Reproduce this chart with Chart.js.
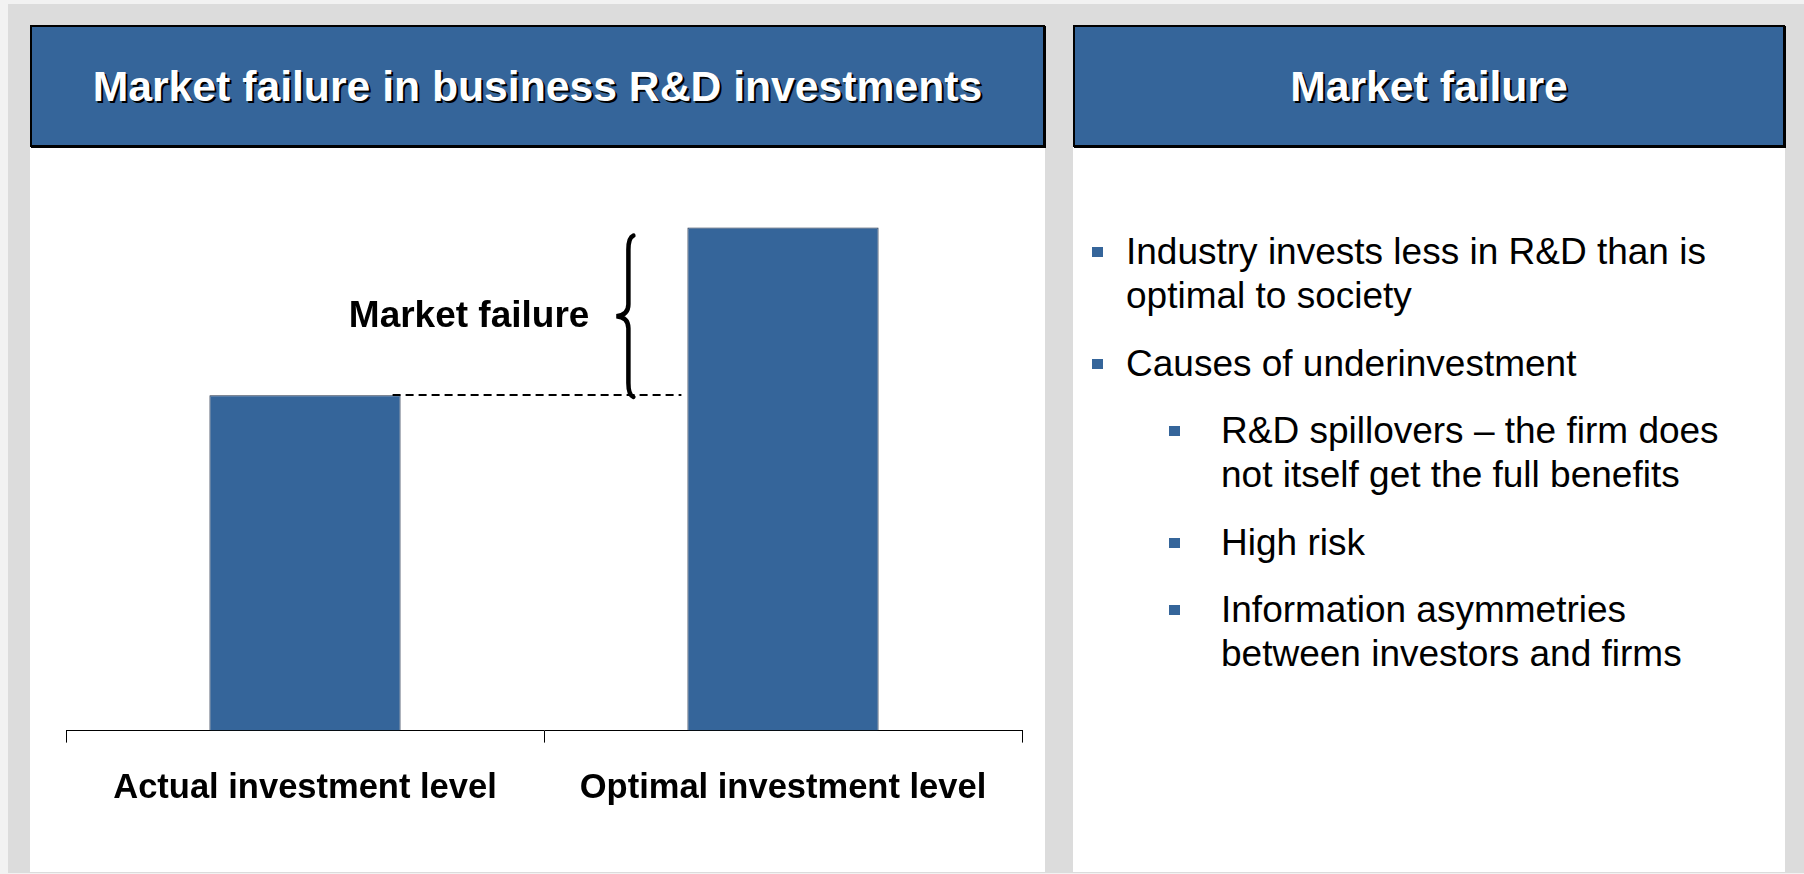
<!DOCTYPE html>
<html>
<head>
<meta charset="utf-8">
<title>Market failure in business R&amp;D investments</title>
<script src="https://cdn.jsdelivr.net/npm/chart.js@4/dist/chart.umd.min.js"></script>
<style>
    html, body {
        margin: 0;
        padding: 0;
        width: 1804px;
        height: 874px;
        overflow: hidden;
        background: #f2f2f2;
        font-family: "Liberation Sans", Arial, sans-serif;
    }
    .frame {
        position: absolute;
        left: 8px; top: 4px; width: 1796px; height: 869px;
        background: #dcdcdc;
    }
    .panel {
        position: absolute;
        top: 25px;
        height: 847px;
        background: #ffffff;
    }
    .header {
        position: absolute;
        left: 0; top: 0; right: 0;
        height: 118px;
        background: #35659a;
        border: 2px solid #000;
        box-shadow: 1px 1px 0 #000;
        color: #fff;
        font-weight: bold;
        font-size: 42.7px;
        display: flex;
        align-items: center;
        justify-content: center;
        text-shadow: 2px 2px 0 #000;
    }
    #left  { left: 30px;   width: 1015px; }
    #right { left: 1073px; width: 712px; }
    #chartBox {
        position: absolute;
        left: 0; top: 123px;
        width: 1015px; height: 724px;
    }
    ul.bullets {
        position: absolute;
        left: 0; top: 0;
        margin: 0; padding: 0;
        list-style: none;
        font-size: 37px;
        line-height: 44px;
        color: #000;
    }
    ul.bullets li {
        position: absolute;
        white-space: nowrap;
    }
    ul.bullets li::before {
        content: "";
        position: absolute;
        width: 11px; height: 10px;
        background: #35659a;
        top: 17px;
    }
    ul.bullets li.l1 { left: 53px; }
    ul.bullets li.l1::before { left: -34px; }
    ul.bullets li.l2 { left: 148px; }
    ul.bullets li.l2::before { left: -52px; }
</style>
</head>
<body>
<div class="frame"></div>

<div class="panel" id="left">
    <div class="header">Market failure in business R&amp;D investments</div>
    <div id="chartBox"><canvas id="mainChart"></canvas></div>
</div>

<div class="panel" id="right">
    <div class="header">Market failure</div>
    <ul class="bullets" id="bulletList"></ul>
</div>

<script>
// Dados do gráfico
const categories = ['Actual investment level', 'Optimal investment level'];
const investment = [100, 150];
const gapLabel = 'Market failure';

// Texto do painel da direita: [nível, linhas, topo]
const bulletItems = [
    [1, ['Industry invests less in R&D than is', 'optimal to society'], 230],
    [1, ['Causes of underinvestment'], 342],
    [2, ['R&D spillovers \u2013 the firm does', 'not itself get the full benefits'], 409],
    [2, ['High risk'], 521],
    [2, ['Information asymmetries', 'between investors and firms'], 588]
];

const blue = '#35659a';

// Monta a lista de tópicos
const list = document.getElementById('bulletList');
bulletItems.forEach(([level, lines, top]) => {
    const li = document.createElement('li');
    li.className = 'l' + level;
    li.style.top = (top - 25) + 'px';
    lines.forEach((t, i) => {
        if (i > 0) li.appendChild(document.createElement('br'));
        li.appendChild(document.createTextNode(t));
    });
    list.appendChild(li);
});

// Plugin: linha tracejada, chave e rótulo da falha de mercado
const gapPlugin = {
    id: 'gapPlugin',
    afterDatasetsDraw(chart) {
        const meta = chart.getDatasetMeta(0);
        const a = meta.data[0];
        const b = meta.data[1];
        const ctx = chart.ctx;
        const yA = Math.round(a.y);
        const yB = b.y;
        const bLeft = b.x - b.width / 2;

        ctx.save();
        // linha tracejada
        ctx.strokeStyle = '#000';
        ctx.lineWidth = 2;
        ctx.setLineDash([8, 5]);
        ctx.beginPath();
        ctx.moveTo(a.x + a.width / 2 - 8, yA);
        ctx.lineTo(bLeft - 6, yA);
        ctx.stroke();
        ctx.setLineDash([]);

        // chave
        const x = bLeft - 59;
        const top = yB + 8;
        const bottom = yA + 2;
        const mid = (top + bottom) / 2;
        ctx.lineWidth = 4.5;
        ctx.lineCap = 'round';
        ctx.beginPath();
        ctx.moveTo(x + 5, top);
        ctx.quadraticCurveTo(x, top + 2, x, top + 14);
        ctx.lineTo(x, mid - 12);
        ctx.quadraticCurveTo(x, mid - 1, x - 12, mid);
        ctx.quadraticCurveTo(x, mid + 1, x, mid + 12);
        ctx.lineTo(x, bottom - 14);
        ctx.quadraticCurveTo(x, bottom - 2, x + 5, bottom);
        ctx.stroke();

        // rótulo
        ctx.fillStyle = '#000';
        ctx.font = 'bold 37px "Liberation Sans", Arial, sans-serif';
        ctx.textAlign = 'right';
        ctx.textBaseline = 'middle';
        ctx.fillText(gapLabel, x - 39, mid + 1);
        ctx.restore();
    }
};

const ctx = document.getElementById('mainChart').getContext('2d');
new Chart(ctx, {
    type: 'bar',
    data: {
        labels: categories,
        datasets: [{
            data: investment,
            backgroundColor: blue,
            borderColor: '#1c2c44',
            borderWidth: 1,
            barPercentage: 0.8,
            categoryPercentage: 0.5
        }]
    },
    options: {
        responsive: true,
        maintainAspectRatio: false,
        animation: false,
        events: [],
        layout: {
            padding: { top: 46, left: 36, right: 23, bottom: 38 }
        },
        plugins: {
            legend: { display: false },
            tooltip: { enabled: false }
        },
        scales: {
            y: {
                display: false,
                min: 0,
                max: 160
            },
            x: {
                grid: {
                    display: true,
                    offset: true,
                    drawOnChartArea: false,
                    drawTicks: true,
                    tickLength: 12,
                    color: '#000',
                    lineWidth: 1
                },
                border: { display: true, color: '#000', width: 1 },
                ticks: {
                    color: '#000',
                    padding: 25,
                    maxRotation: 0,
                    autoSkip: false,
                    font: { family: '"Liberation Sans", Arial, sans-serif', size: 34.5, weight: 'bold' }
                }
            }
        }
    },
    plugins: [gapPlugin]
});
</script>
</body>
</html>
